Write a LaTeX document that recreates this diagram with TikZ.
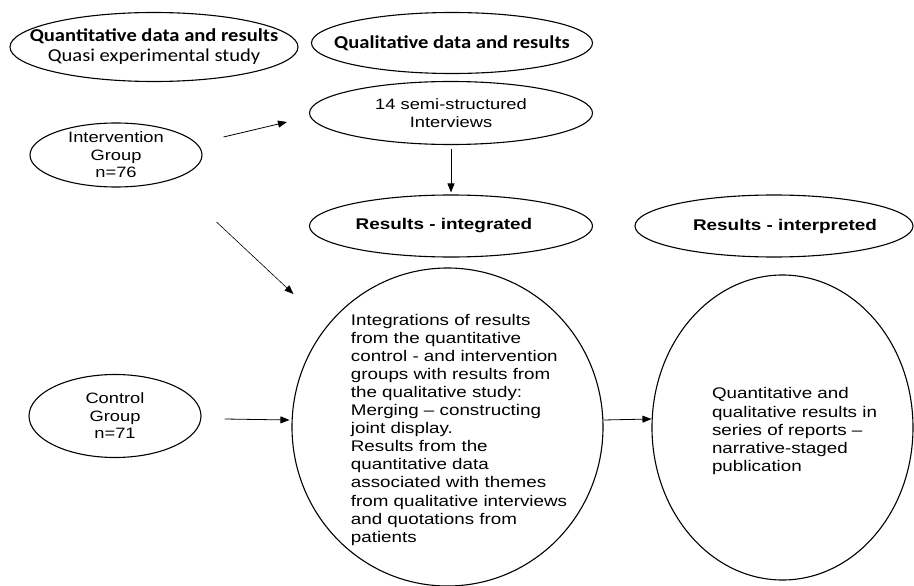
\documentclass[tikz,border=0pt]{standalone}
\usepackage{fontspec}
\setmainfont[FakeStretch=1.22]{Liberation Sans}
\newfontfamily\calib[FakeStretch=1.13]{Carlito}
\usetikzlibrary{shapes.geometric,arrows.meta}

\tikzset{
  oval/.style={shape=ellipse, draw=black, fill=white, line width=1.1pt,
    inner sep=-300pt, align=center, font=\fontsize{15}{17.5}\selectfont},
  headline/.style={oval, font=\calib\fontsize{18.2}{20}\selectfont},
  resline/.style={oval, font=\bfseries\fontsize{15.5}{17.5}\selectfont},
  bigtext/.style={oval, font=\fontsize{15.4}{18.1}\selectfont},
  arr/.style={-{Triangle[length=9pt,width=7pt]}, line width=0.8pt},
}

\begin{document}
\begin{tikzpicture}[x=1pt, y=-1pt]
          \useasboundingbox (0,0) rectangle (914,586);

          % nodes
          \node[headline, minimum width=288pt, minimum height=69pt] at (154,47)
          (quant) {{\bfseries Quantitative data and results}\\Quasi experimental study};
          \node[headline, minimum width=281pt, minimum height=61pt] at (452,43)
          (qual) {\bfseries Qualitative data and results};
          \node[oval, minimum width=283pt, minimum height=63pt] at (451,113)
          (semi) {14 semi-structured\\Interviews};
          \node[oval, minimum width=172pt, minimum height=64pt] at (116,155)
          (interv) {Intervention\\Group\\n=76};
          \node[resline, minimum width=283pt, minimum height=62pt] at (451,226)
          (resint) {Results - integrated\hspace*{14pt}};
          \node[resline, minimum width=278pt, minimum height=62pt] at (774,226)
          (resinterp) {\hspace*{22pt}Results - interpreted};
          \node[oval, minimum width=172pt, minimum height=83pt] at (115,416)
          (ctrl) {Control\\Group\\n=71};
          \node[bigtext, minimum width=311pt, minimum height=318pt] at (447.5,427)
          (integ) {\hspace*{23pt}\raisebox{-3pt}[\height][\depth]{\begin{tabular}{@{}l@{}}
          Integrations of results\\from the quantitative\\control - and intervention\\
          groups with results from\\the qualitative study:\\Merging -- constructing\\
          joint display.\\Results from the\\quantitative data\\associated with themes\\
          from qualitative interviews\\and quotations from\\patients\end{tabular}}};
          \node[bigtext, minimum width=261pt, minimum height=305pt] at (782.5,427.5)
          (interp) {\hspace*{24pt}\raisebox{-4pt}[\height][\depth]{\begin{tabular}{@{}l@{}}
          Quantitative and\\qualitative results in\\series of reports --\\
          narrative-staged\\publication\end{tabular}}};

          % arcs
          \draw[arr]
          ([shift={(21,-18)}]interv.east) -- ([shift={(-22,9)}]semi.west);
          \draw[arr, shorten <=4pt, shorten >=2pt]
          (semi) -- (resint);
          \draw[arr, line width=0.6pt]
          ([shift={(14,67)}]interv.east) -- ([shift={(2,-133)}]integ.west);
          \draw[arr]
          ([shift={(23,3)}]ctrl.east) -- ([shift={(-2,-7)}]integ.west);
          \draw[arr]
          ([shift={(0,-7)}]integ.east) -- ([shift={(0,-8.5)}]interp.west);
        \end{tikzpicture}
\end{document}
